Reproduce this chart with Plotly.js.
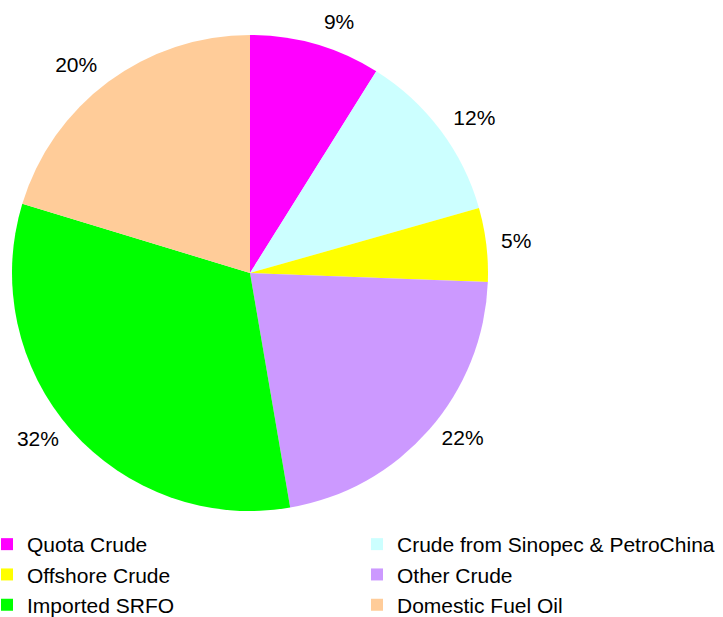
<!DOCTYPE html>
<html>
<head>
<meta charset="utf-8">
<script src="https://cdn.plot.ly/plotly-3.0.1.min.js"></script>
<style>
  html, body { margin: 0; padding: 0; background: #ffffff; overflow: hidden; }
  #frame { width: 723px; height: 617px; overflow: hidden; position: relative; }
  #chart { width: 740px; height: 617px; }
</style>
</head>
<body>
<div id="frame"><div id="chart"></div></div>
<script>
// Data (shares, %)
const categories = [
  "Quota Crude",
  "Crude from Sinopec & PetroChina",
  "Offshore Crude",
  "Other Crude",
  "Imported SRFO",
  "Domestic Fuel Oil"
];
const shares = [8.9, 11.7, 5.0, 21.7, 32.4, 20.3];
const sliceColors = ["#FF00FF", "#CCFFFF", "#FFFF00", "#CC99FF", "#00FF00", "#FFCC99"];

// layout canvas is a little wider than the 723px window so the two legend
// columns can sit as far apart as in the reference; nothing is drawn past 723px
const W = 740, H = 617;
const margin = { l: 0, r: 0, t: 0, b: 100, autoexpand: false };
const plotH = H - margin.t - margin.b;
const cx = 250, cy = 273, R = 238;   // pie centre / radius in px
const RT = 250;                       // radius of the ring the percentage labels sit on
const FONT = "Liberation Sans, Arial, sans-serif";

function domainFor(r) {
  return {
    x: [(cx - r) / W, (cx + r) / W],
    y: [1 - (cy + r - margin.t) / plotH, 1 - (cy - r - margin.t) / plotH]
  };
}

// visible pie
const pie = {
  type: "pie",
  labels: categories,
  values: shares,
  sort: false,
  direction: "clockwise",
  rotation: 0,
  marker: { colors: sliceColors, line: { width: 0 } },
  textinfo: "none",
  hoverinfo: "label+percent",
  domain: domainFor(R)
};

// transparent twin pie that only carries the outside percentage labels
const labelRing = {
  type: "pie",
  labels: categories,
  values: shares,
  sort: false,
  direction: "clockwise",
  rotation: 0,
  showlegend: false,
  marker: { colors: categories.map(() => "rgba(0,0,0,0)"), line: { width: 0 } },
  textposition: "outside",
  texttemplate: "%{percent:.0%}",
  textfont: { family: FONT, size: 21, color: "#000000" },
  hoverinfo: "skip",
  domain: domainFor(RT)
};

const layout = {
  width: W,
  height: H,
  margin: margin,
  paper_bgcolor: "#ffffff",
  plot_bgcolor: "#ffffff",
  font: { family: FONT, size: 21, color: "#000000" },
  showlegend: true,
  legend: {
    orientation: "h",
    x: -13 / W,
    xanchor: "left",
    y: -(524 - (H - margin.b)) / plotH,
    yanchor: "top",
    entrywidthmode: "fraction",
    entrywidth: 0.5,
    traceorder: "normal",
    font: { family: FONT, size: 21, color: "#000000" },
    bgcolor: "rgba(0,0,0,0)",
    borderwidth: 0
  }
};

Plotly.newPlot("chart", [pie, labelRing], layout, { displayModeBar: false, staticPlot: true });
</script>
</body>
</html>
